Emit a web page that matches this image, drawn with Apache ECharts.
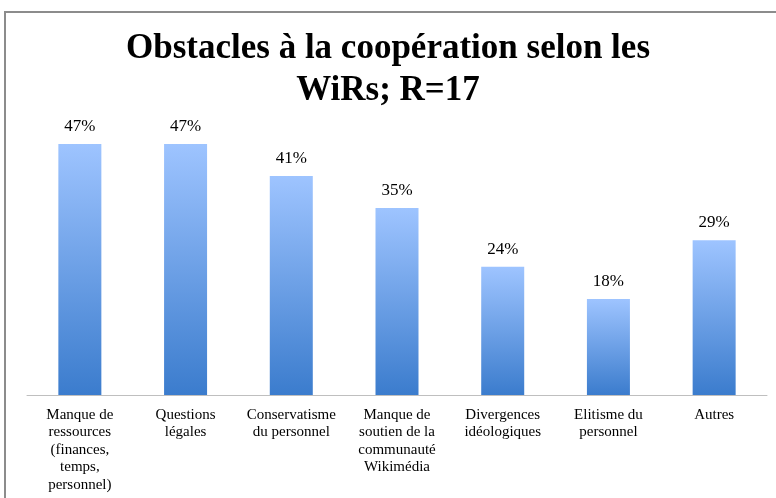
<!DOCTYPE html>
<html>
<head>
<meta charset="utf-8">
<script src="https://cdn.jsdelivr.net/npm/echarts@6/dist/echarts.min.js"></script>
<style>
  html, body { margin: 0; padding: 0; background: #fff; }
  #chart { width: 776px; height: 498px; }
</style>
</head>
<body>
<div id="chart"></div>
<script>
  const categories = [
    'Manque de\nressources\n(finances,\ntemps,\npersonnel)',
    'Questions\nlégales',
    'Conservatisme\ndu personnel',
    'Manque de\nsoutien de la\ncommunauté\nWikimédia',
    'Divergences\nidéologiques',
    'Elitisme du\npersonnel',
    'Autres'
  ]
  const values = [47, 47, 41, 35, 24, 18, 29]

  const chart = echarts.init(document.getElementById('chart'))
  const option = {
    animation: false,
    title: {
      text: 'Obstacles à la coopération selon les\nWiRs; R=17',
      left: 'center',
      top: 23,
      textStyle: {
        fontFamily: 'Liberation Serif',
        fontWeight: 'bold',
        fontSize: 35,
        lineHeight: 42,
        color: '#000'
      }
    },
    graphic: [{
      type: 'rect',
      shape: { x: 5, y: 12, width: 800, height: 520 },
      style: { fill: 'none', stroke: '#8c8c8c', lineWidth: 2 },
      silent: true
    }],
    grid: { left: 27, right: 9, top: 128, bottom: 103 },
    xAxis: {
      type: 'category',
      data: categories,
      axisLine: { lineStyle: { color: '#bfbfbf', width: 1 } },
      axisTick: { show: false },
      axisLabel: {
        interval: 0,
        margin: 11,
        fontFamily: 'Liberation Serif',
        fontSize: 15,
        lineHeight: 17.5,
        color: '#000'
      }
    },
    yAxis: {
      type: 'value',
      min: 0,
      max: 50,
      show: false,
      splitLine: { show: false }
    },
    series: [{
      type: 'bar',
      data: values,
      barWidth: 43,
      itemStyle: {
        color: new echarts.graphic.LinearGradient(0, 0, 0, 1, [
          { offset: 0, color: '#9ec4ff' },
          { offset: 1, color: '#3b7ccd' }
        ])
      },
      label: {
        show: true,
        position: 'top',
        distance: 9,
        formatter: '{c}%',
        fontFamily: 'Liberation Serif',
        fontSize: 17,
        color: '#000'
      }
    }]
  }
  chart.setOption(option)
</script>
</body>
</html>
